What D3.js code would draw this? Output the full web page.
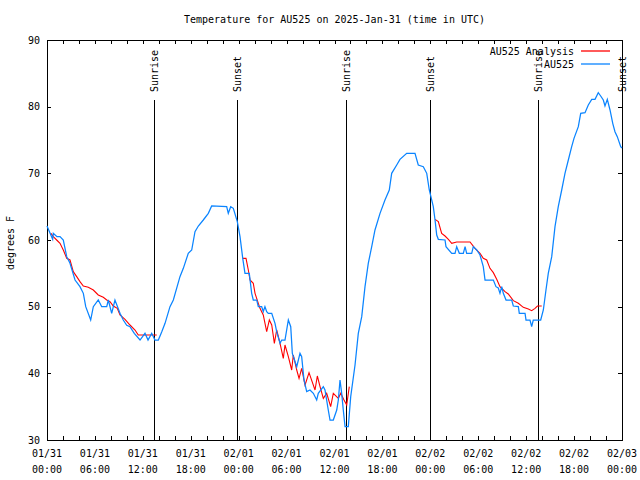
<!DOCTYPE html>
<html>
<head>
<meta charset="utf-8">
<script src="https://cdn.jsdelivr.net/npm/d3@7"></script>
<style>
  html, body { margin: 0; padding: 0; background: #fff; }
  svg { display: block; }
  text { font-family: "DejaVu Sans Mono", "Liberation Mono", monospace; font-size: 10px; fill: #000; }
</style>
</head>
<body>
<svg id="chart" width="640" height="480"></svg>
<script>
// ---- Data (hours since 2025-01-31 00:00 UTC) ----
const titleText = "Temperature for AU525 on 2025-Jan-31 (time in UTC)";
const yLabel = "degrees F";
const obsName = "AU525";
const anaName = "AU525 Analysis";

const obsHours = [0.0,0.71,0.79,1.25,1.63,2.04,2.47,2.88,3.51,4.13,4.55,4.85,5.47,5.80,6.42,6.85,7.48,7.68,8.10,8.51,9.14,9.55,9.98,10.39,10.93,11.65,12.27,12.65,13.11,13.52,13.94,14.36,14.78,15.40,15.82,16.65,17.07,17.69,18.12,18.53,18.95,19.57,20.20,20.62,22.50,22.70,23.00,23.33,23.83,24.17,24.51,24.79,25.33,25.63,25.83,26.26,26.46,26.88,27.08,27.29,27.51,27.71,28.14,28.55,28.76,29.18,29.39,29.80,30.22,30.52,30.72,31.27,31.68,31.89,32.18,32.52,32.93,33.35,33.77,33.97,34.60,34.81,35.22,35.44,35.85,36.28,36.48,36.69,36.90,37.10,37.32,37.73,38.03,38.57,38.98,39.41,39.82,40.23,40.66,41.07,41.70,42.32,42.86,43.16,43.79,44.20,45.04,46.08,46.49,47.12,47.55,47.87,48.37,48.59,48.80,49.00,49.84,49.96,50.68,51.09,51.30,51.63,52.13,52.35,52.55,53.18,53.38,53.81,54.22,54.63,54.85,55.89,56.22,56.51,56.72,56.94,57.14,57.48,58.19,58.39,59.02,59.14,59.86,59.98,60.48,60.69,60.89,61.82,62.15,62.48,62.77,63.20,63.61,64.02,64.45,64.86,65.28,65.70,65.99,66.53,66.83,67.37,67.78,68.21,68.62,69.03,69.33,69.66,69.87,70.16,70.50,70.84,71.12,71.41,71.84,72.0];
const obsTemps = [62.1,60.1,61,60.5,60.5,60,57.5,56.5,54,53,52,50,48,50,51,50,50,51,49,51,49,48,47.2,47,46,45,46,45,46,45,45,46.2,47.5,50,51,54.5,55.75,58,58.5,61.25,62.1,63,64,65.1,65,64,65,64.75,62.75,60.5,57.25,55,55,52,51,51,50,50,49.25,50,49.25,49,49,47.5,46.25,44.5,45,45,48,47,43,41,43,42.5,39,37.25,37.5,37,36,37,38,37.5,34.5,33,33,34.5,36,39,37,34.5,32,32,36.5,41.25,46,48.5,53,56.5,59,61.5,64,66,67.5,70,71.25,72.1,73,73,71.25,71,70,67.5,65,63,60.75,60.1,60,59,58,58,59,58,58,59,58,58,59,58.5,57.75,56,54,54,53,52.8,52,53,52,51,51,50.1,50,49,49,48,48,47,48,48,49.5,52.5,55,57.5,62,65,67.5,70,72,74,75.25,77,79,79.1,80.25,81.1,81.1,82.1,81.6,81,80.1,81.1,79.5,77.5,76.25,75.5,74,73.8];

// Analysis series: null marks a gap
const anaHours = [0.5,0.79,1.21,1.63,2.04,2.47,2.88,3.29,3.72,4.13,4.55,5.17,5.80,6.42,7.05,7.48,7.89,8.30,8.80,9.14,9.77,10.39,11.02,11.43,12.48,13.74,
  null,
  24.51,24.92,25.21,25.42,25.83,26.05,26.46,26.67,27.08,27.51,27.84,28.14,28.47,28.76,29.18,29.59,29.80,30.22,30.64,30.84,31.27,31.56,31.89,32.31,32.81,33.56,33.85,34.19,34.60,35.02,35.52,35.85,36.48,36.78,37.19,37.53,37.85,
  null,
  48.59,49.00,49.42,49.84,50.26,50.68,51.30,52.97,53.59,54.22,54.63,55.06,55.47,55.89,56.31,56.72,57.35,57.76,58.39,59.02,59.64,60.27,60.69,61.11,61.41,61.95];
const anaTemps = [61,60.5,60,59.5,58.5,57.25,57,55.25,54.5,53.75,53.1,52.9,52.5,51.75,51.4,51,50.75,50.1,49.75,48.75,48.1,47.25,46.5,45.75,45.75,45.75,
  null,
  57.25,57.25,55.5,54,53.5,52,50.5,49.75,48.75,46.25,48,47.25,44.5,46.5,44.5,42.25,44.25,42.5,40.5,42.75,40.5,39.25,40.75,38.25,40.1,37.5,39.6,38,36.25,37,35,37,36.25,37,36,35.25,38,
  null,
  63.1,62.75,61,60.6,60.1,59.5,59.7,59.7,58.75,58,57.25,57,55.75,55.1,54.1,53,52.25,51.9,50.9,50.5,49.9,49.65,49.4,49.75,50.1,50.1];

const eventHours = [13.40, 23.85, 37.38, 47.90, 61.42, 72.0];
const eventLabels = ["Sunrise", "Sunset", "Sunrise", "Sunset", "Sunrise", "Sunset"];

const yTicks = [30, 40, 50, 60, 70, 80, 90];
const yDomain = [30, 90];

// ---- Layout ----
const svg = d3.select("#chart");
const L = 47, R = 622, T = 40, B = 440;
const t0 = Date.UTC(2025, 0, 31, 0, 0);
const toDate = h => new Date(t0 + h * 3600000);

const x = d3.scaleUtc().domain([toDate(0), toDate(72)]).range([L, R]);
const y = d3.scaleLinear().domain(yDomain).range([B, T]);

// Title
svg.append("text").attr("x", (L + R) / 2).attr("y", 23)
  .attr("text-anchor", "middle").text(titleText);

// Y label
svg.append("text").attr("transform", `translate(14,243) rotate(-90)`)
  .attr("text-anchor", "middle").text(yLabel);

// Axes
const fmtDay = d3.utcFormat("%m/%d"), fmtTime = d3.utcFormat("%H:%M");
const majorTicks = x.ticks(d3.utcHour.every(6));
const minorTicks = x.ticks(d3.utcHour.every(2));

const gB = svg.append("g").attr("transform", `translate(0,${B})`)
  .call(d3.axisBottom(x).tickValues(minorTicks).tickSize(-4).tickFormat(""));
const gT = svg.append("g").attr("transform", `translate(0,${T})`)
  .call(d3.axisTop(x).tickValues(minorTicks).tickSize(-4).tickFormat(""));
const gL = svg.append("g").attr("transform", `translate(${L},0)`)
  .call(d3.axisLeft(y).tickValues(yTicks).tickSize(-4).tickPadding(7).tickFormat(d3.format("d")));
const gR = svg.append("g").attr("transform", `translate(${R},0)`)
  .call(d3.axisRight(y).tickValues(yTicks).tickSize(-4).tickFormat(""));
[gB, gT, gL, gR].forEach(g => {
  g.select(".domain").remove();
  g.selectAll("line").attr("stroke", "#000").attr("shape-rendering", "crispEdges");
});
gL.selectAll("text").style("font-family", "DejaVu Sans Mono, monospace").style("font-size", "10px");

// Bottom tick labels (two lines)
const lab = svg.append("g");
majorTicks.forEach(d => {
  const t = lab.append("text").attr("x", x(d)).attr("text-anchor", "middle");
  t.append("tspan").attr("x", x(d)).attr("y", 457).text(fmtDay(d));
  t.append("tspan").attr("x", x(d)).attr("y", 473).text(fmtTime(d));
});

// Frame
svg.append("rect").attr("x", L).attr("y", T).attr("width", R - L).attr("height", B - T)
  .attr("fill", "none").attr("stroke", "#000").attr("shape-rendering", "crispEdges");

// Event lines
eventHours.forEach((h, i) => {
  const ex = Math.round(x(toDate(h))) + 0.5;
  svg.append("line").attr("x1", ex).attr("x2", ex).attr("y1", 100).attr("y2", B)
    .attr("stroke", "#000").attr("stroke-width", 1);
  svg.append("text").attr("transform", `translate(${ex + 3.5},92) rotate(-90)`)
    .attr("text-anchor", "start").text(eventLabels[i]);
});

// Series
const anaData = anaHours.map((h, i) => ({ h, v: anaTemps[i] }));
const obsData = obsHours.map((h, i) => ({ h, v: obsTemps[i] }));
const line = d3.line()
  .defined(d => d.h !== null && d.v !== null)
  .x(d => x(toDate(d.h))).y(d => y(d.v));

svg.append("path").datum(anaData).attr("d", line)
  .attr("fill", "none").attr("stroke", "#ff0000").attr("stroke-width", 1.1);
svg.append("path").datum(obsData).attr("d", line)
  .attr("fill", "none").attr("stroke", "#0a84ff").attr("stroke-width", 1.25);

// Legend
const legend = [{ name: anaName, color: "#ff0000", ly: 51 }, { name: obsName, color: "#0a84ff", ly: 64 }];
legend.forEach(l => {
  svg.append("text").attr("x", 574).attr("y", l.ly + 3.5).attr("text-anchor", "end").text(l.name);
  svg.append("line").attr("x1", 581).attr("x2", 610).attr("y1", l.ly).attr("y2", l.ly)
    .attr("stroke", l.color).attr("stroke-width", 1.3);
});
</script>
</body>
</html>
